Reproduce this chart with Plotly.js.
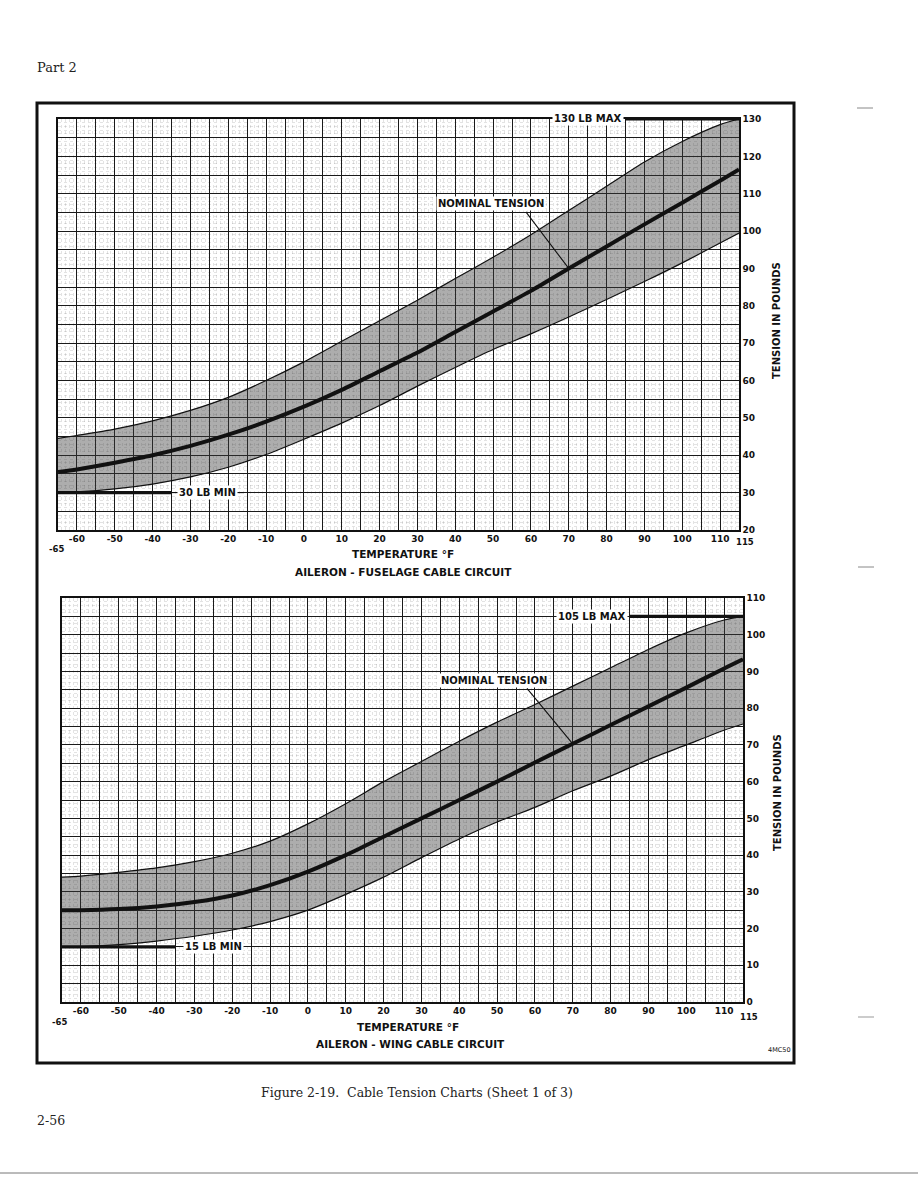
<!DOCTYPE html>
<html>
<head>
<meta charset="utf-8">
<script src="https://cdn.plot.ly/plotly-3.0.1.min.js"></script>
<style>
html,body{margin:0;padding:0;background:#fff;}
#chart{width:918px;height:1188px;}
</style>
</head>
<body>
<div id="chart"></div>
<script>
// ---------- DATA ----------
const temps = [-65, -60, -50, -40, -30, -20, -10, 0, 10, 20, 30, 40, 50, 60, 70, 80, 90, 100, 110, 115];

// Aileron - fuselage cable circuit (lb)
const fuselageNominal = [35.5, 36.2, 38, 40, 42.5, 45.5, 49, 53, 57.5, 62.5, 67.5, 73, 78.5, 84, 90, 95.9, 101.8, 107.6, 113.5, 116.5];
const fuselageUpper   = [44.5, 45.3, 47, 49.2, 52, 55.5, 60, 65, 70.5, 76, 81.5, 87.3, 93, 99, 105.5, 112, 118.5, 124, 128.5, 130];
const fuselageLower   = [30, 30.2, 31, 32.3, 34.2, 36.8, 40.2, 44.3, 48.6, 53.3, 58.5, 63.5, 68.3, 72.5, 77, 81.7, 86.5, 91.5, 96.8, 99.5];
const fuselageMax = 130;
const fuselageMaxX = [85, 115];
const fuselageMin = 30;
const fuselageMinX = [-65, -35];
const fuselageMinThinX = [-35, -16];

// Aileron - wing cable circuit (lb)
const wingNominal = [25, 25, 25.3, 26, 27.2, 29, 31.8, 35.5, 40, 45, 50, 55, 60, 65.2, 70.3, 75.4, 80.5, 85.6, 90.8, 93.3];
const wingUpper   = [34, 34.3, 35.3, 36.5, 38.2, 40.5, 43.8, 48.5, 54, 60, 65.5, 71, 76.2, 81, 86, 91, 96, 100.5, 104, 105];
const wingLower   = [15, 15.1, 15.6, 16.6, 17.9, 19.6, 21.9, 25, 29.3, 34, 39.3, 44.4, 49, 53, 57.5, 61.5, 66, 70, 74, 75.7];
const wingMax = 105;
const wingMaxX = [85, 115];
const wingMin = 15;
const wingMinX = [-65, -35];

// Nominal-tension pointer targets
const fuselagePointer = {x: 70, y: 90};
const wingPointer = {x: 70, y: 70.3};

// Tick labels
const xTickValues = [-60, -50, -40, -30, -20, -10, 0, 10, 20, 30, 40, 50, 60, 70, 80, 90, 100, 110];
const xTickLabels = ['-60', '-50', '-40', '-30', '-20', '-10', '0', '10', '20', '30', '40', '50', '60', '70', '80', '90', '100', '110'];
const xRange = [-65, 115];
const xEndLabels = ['-65', '115'];
const fuselageYTickValues = [20, 30, 40, 50, 60, 70, 80, 90, 100, 110, 120, 130];
const fuselageYTickLabels = ['20', '30', '40', '50', '60', '70', '80', '90', '100', '110', '120', '130'];
const fuselageYRange = [20, 130];
const wingYTickValues = [0, 10, 20, 30, 40, 50, 60, 70, 80, 90, 100, 110];
const wingYTickLabels = ['0', '10', '20', '30', '40', '50', '60', '70', '80', '90', '100', '110'];
const wingYRange = [0, 110];

// ---------- HELPERS ----------
const W = 918, H = 1188;
const px = v => v / W;
const py = v => 1 - v / H;
const SANS = 'DejaVu Sans';
const SERIF = 'DejaVu Serif';
const INK = '#111';

function gridTicks(range, step, vals, labels) {
  const tv = [], tt = [];
  for (let v = range[0]; v <= range[1] + 1e-9; v += step) {
    tv.push(v);
    const i = vals.indexOf(v);
    tt.push(i >= 0 ? labels[i] : '');
  }
  return {tv, tt};
}

function axisBase(range, ticks, extra) {
  return Object.assign({
    range: range,
    tickmode: 'array',
    tickvals: ticks.tv,
    ticktext: ticks.tt,
    ticks: '',
    showgrid: true,
    gridcolor: '#1a1a1a',
    gridwidth: 1,
    zeroline: false,
    showline: true,
    mirror: true,
    linecolor: INK,
    linewidth: 1.6,
    fixedrange: true,
    tickfont: {family: SANS, size: 9, weight: 'bold', color: INK},
    minor: {tickmode: 'linear', dtick: 1, showgrid: true, gridcolor: 'rgba(0,0,0,0.11)', gridwidth: 1, griddash: 'dot'}
  }, extra);
}

const xGrid = gridTicks(xRange, 5, xTickValues, xTickLabels);
const yGrid1 = gridTicks(fuselageYRange, 5, fuselageYTickValues, fuselageYTickLabels);
const yGrid2 = gridTicks(wingYRange, 5, wingYTickValues, wingYTickLabels);

const lineStyle = {color: INK, width: 1.2, shape: 'spline', smoothing: 0.7};
const BAND = 'rgba(60,60,60,0.42)';

function band(xa, ya, lower, upper, nominal) {
  return [
    {x: temps, y: lower, xaxis: xa, yaxis: ya, mode: 'lines', line: lineStyle, hoverinfo: 'skip'},
    {x: temps, y: upper, xaxis: xa, yaxis: ya, mode: 'lines', line: lineStyle, fill: 'tonexty', fillcolor: BAND, hoverinfo: 'skip'},
    {x: temps, y: nominal, xaxis: xa, yaxis: ya, mode: 'lines', line: {color: INK, width: 4, shape: 'spline', smoothing: 0.7}, hoverinfo: 'skip'}
  ];
}

function hline(xa, ya, xs, yv, w) {
  return {x: xs, y: xs.map(() => yv), xaxis: xa, yaxis: ya, mode: 'lines', line: {color: INK, width: w}, cliponaxis: false, hoverinfo: 'skip'};
}

const traces = [].concat(
  band('x', 'y', fuselageLower, fuselageUpper, fuselageNominal),
  [hline('x', 'y', fuselageMinX, fuselageMin, 3.2),
   hline('x', 'y', fuselageMinThinX, fuselageMin, 1),
   hline('x', 'y', fuselageMaxX, fuselageMax, 3.2)],
  band('x2', 'y2', wingLower, wingUpper, wingNominal),
  [hline('x2', 'y2', wingMinX, wingMin, 3.2),
   hline('x2', 'y2', wingMaxX, wingMax, 3.2)]
);

const boldFont = (s) => ({family: SANS, size: s, weight: 'bold', color: INK});
const C = {xanchor: 'center', yanchor: 'middle', showarrow: false};

const annotations = [
  // page text
  Object.assign({}, C, {xref: 'paper', yref: 'paper', x: px(35), y: py(68), xanchor: 'left', text: 'Part 2', font: {family: SERIF, size: 13, color: '#222'}}),
  Object.assign({}, C, {xref: 'paper', yref: 'paper', x: px(417), y: py(1092), text: 'Figure 2-19.  Cable Tension Charts (Sheet 1 of 3)', font: {family: SERIF, size: 12.5, color: '#222'}}),
  Object.assign({}, C, {xref: 'paper', yref: 'paper', x: px(35), y: py(1120), xanchor: 'left', text: '2-56', font: {family: SERIF, size: 12.5, color: '#222'}}),
  Object.assign({}, C, {xref: 'paper', yref: 'paper', x: px(779), y: py(1050), text: '4MC50', font: {family: SANS, size: 6.5, color: INK}}),

  // top chart titles
  Object.assign({}, C, {xref: 'paper', yref: 'paper', x: px(403), y: py(554), text: 'TEMPERATURE °F', font: boldFont(10.5)}),
  Object.assign({}, C, {xref: 'paper', yref: 'paper', x: px(403), y: py(572), text: 'AILERON - FUSELAGE CABLE CIRCUIT', font: boldFont(10.5)}),
  Object.assign({}, C, {xref: 'paper', yref: 'paper', x: px(776), y: py(321), text: 'TENSION IN POUNDS', textangle: -90, font: boldFont(10)}),
  // bottom chart titles
  Object.assign({}, C, {xref: 'paper', yref: 'paper', x: px(408), y: py(1027), text: 'TEMPERATURE °F', font: boldFont(10.5)}),
  Object.assign({}, C, {xref: 'paper', yref: 'paper', x: px(410), y: py(1044), text: 'AILERON - WING CABLE CIRCUIT', font: boldFont(10.5)}),
  Object.assign({}, C, {xref: 'paper', yref: 'paper', x: px(777), y: py(793), text: 'TENSION IN POUNDS', textangle: -90, font: boldFont(10)}),

  // end tick labels
  Object.assign({}, C, {xref: 'x', yref: 'y', x: xRange[0], y: fuselageYRange[0], yshift: -19, xshift: -2, text: xEndLabels[0], font: boldFont(8.5)}),
  Object.assign({}, C, {xref: 'x', yref: 'y', x: xRange[1], y: fuselageYRange[0], yshift: -12, xshift: 6, text: xEndLabels[1], font: boldFont(8.5)}),
  Object.assign({}, C, {xref: 'x2', yref: 'y2', x: xRange[0], y: wingYRange[0], yshift: -20, xshift: -3, text: xEndLabels[0], font: boldFont(8.5)}),
  Object.assign({}, C, {xref: 'x2', yref: 'y2', x: xRange[1], y: wingYRange[0], yshift: -15, xshift: 6, text: xEndLabels[1], font: boldFont(8.5)}),

  // limit labels
  Object.assign({}, C, {xref: 'x', yref: 'y', x: 75, y: fuselageMax, text: '130 LB MAX', bgcolor: '#fff', borderpad: 1, font: boldFont(10)}),
  Object.assign({}, C, {xref: 'x', yref: 'y', x: -25.5, y: fuselageMin, text: '30 LB MIN', bgcolor: '#fff', borderpad: 1, font: boldFont(10)}),
  Object.assign({}, C, {xref: 'x2', yref: 'y2', x: 75, y: wingMax, text: '105 LB MAX', bgcolor: '#fff', borderpad: 1, font: boldFont(10)}),
  Object.assign({}, C, {xref: 'x2', yref: 'y2', x: -25, y: wingMin, text: '15 LB MIN', bgcolor: '#fff', borderpad: 1, font: boldFont(10)}),

  // nominal tension labels + pointers
  Object.assign({}, C, {xref: 'x', yref: 'y', x: 49.5, y: 107.5, text: 'NOMINAL TENSION', bgcolor: '#fff', borderpad: 1, font: boldFont(10)}),
  {xref: 'x', yref: 'y', x: fuselagePointer.x, y: fuselagePointer.y, ax: -44, ay: -58, text: '', showarrow: true, arrowhead: 0, arrowwidth: 1.1, arrowcolor: INK, standoff: 0},
  Object.assign({}, C, {xref: 'x2', yref: 'y2', x: 49.3, y: 87.5, text: 'NOMINAL TENSION', bgcolor: '#fff', borderpad: 1, font: boldFont(10)}),
  {xref: 'x2', yref: 'y2', x: wingPointer.x, y: wingPointer.y, ax: -47, ay: -57, text: '', showarrow: true, arrowhead: 0, arrowwidth: 1.1, arrowcolor: INK, standoff: 0}
];

const shapes = [
  // outer frame
  {type: 'rect', xref: 'paper', yref: 'paper', x0: px(37), x1: px(794), y0: py(1063), y1: py(103), line: {color: INK, width: 3}},
  // bottom page rule
  {type: 'line', xref: 'paper', yref: 'paper', x0: 0, x1: 1, y0: py(1173), y1: py(1173), line: {color: '#777', width: 1}},
  // margin marks
  {type: 'line', xref: 'paper', yref: 'paper', x0: px(857), x1: px(873), y0: py(108), y1: py(108), line: {color: '#888', width: 1}},
  {type: 'line', xref: 'paper', yref: 'paper', x0: px(858), x1: px(874), y0: py(567), y1: py(567), line: {color: '#888', width: 1}},
  {type: 'line', xref: 'paper', yref: 'paper', x0: px(858), x1: px(874), y0: py(1017), y1: py(1017), line: {color: '#999', width: 1}}
];

const layout = {
  width: W, height: H,
  margin: {l: 0, r: 0, t: 0, b: 0},
  paper_bgcolor: '#fff',
  plot_bgcolor: '#fff',
  showlegend: false,
  xaxis: axisBase(xRange, xGrid, {domain: [px(58), px(739)], anchor: 'y'}),
  yaxis: axisBase(fuselageYRange, yGrid1, {domain: [py(530), py(119)], anchor: 'x', side: 'right'}),
  xaxis2: axisBase(xRange, xGrid, {domain: [px(62), px(743)], anchor: 'y2'}),
  yaxis2: axisBase(wingYRange, yGrid2, {domain: [py(1002), py(598)], anchor: 'x2', side: 'right'}),
  annotations: annotations,
  shapes: shapes
};

Plotly.newPlot('chart', traces, layout, {displayModeBar: false, staticPlot: true});
</script>
</body>
</html>
